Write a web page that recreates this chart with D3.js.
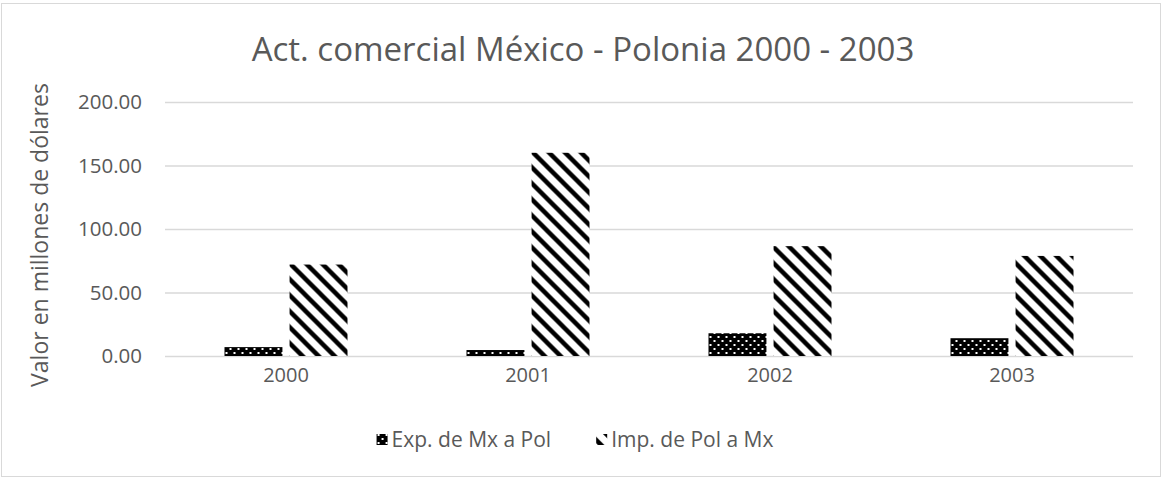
<!DOCTYPE html>
<html>
<head>
<meta charset="utf-8">
<script src="https://cdn.jsdelivr.net/npm/d3@7"></script>
<style>
  body { margin: 0; background: #fff; }
  text { font-family: "Open Sans", sans-serif; fill: #595959; }
</style>
</head>
<body>
<div id="chart"></div>
<script>
// data
var years = ["2000", "2001", "2002", "2003"];
var seriesNames = ["Exp. de Mx a Pol", "Imp. de Pol a Mx"];
var expValues = [7.0, 4.7, 17.9, 14.0];
var impValues = [72.0, 160.0, 86.5, 78.8];
var yTicks = [0, 50, 100, 150, 200];

var W = 1162, H = 479;
var margin = { top: 102, right: 29, bottom: 123, left: 165 };
var width = W - margin.left - margin.right,
    height = H - margin.top - margin.bottom;

var svg = d3.select("#chart").append("svg")
    .attr("width", W)
    .attr("height", H);

// patterns
var defs = svg.append("defs");
var dots = defs.append("pattern")
    .attr("id", "dots")
    .attr("patternUnits", "userSpaceOnUse")
    .attr("width", 8).attr("height", 8);
dots.append("rect").attr("width", 8).attr("height", 8).attr("fill", "#000");
dots.append("rect").attr("x", 1).attr("y", 2).attr("width", 2).attr("height", 2).attr("fill", "#fff");
dots.append("rect").attr("x", 5).attr("y", 6).attr("width", 2).attr("height", 2).attr("fill", "#fff");

var diag = defs.append("pattern")
    .attr("id", "diag")
    .attr("patternUnits", "userSpaceOnUse")
    .attr("width", 16).attr("height", 16);
diag.append("rect").attr("width", 16).attr("height", 16).attr("fill", "#fff");
diag.append("path")
    .attr("d", "M-4,-4L20,20M-4,12L4,20M12,-4L20,4")
    .attr("stroke", "#000")
    .attr("stroke-width", 4.5);

var fills = ["url(#dots)", "url(#diag)"];

// outer border
svg.append("rect")
    .attr("x", 1.5).attr("y", 3.5)
    .attr("width", W - 3).attr("height", H - 6)
    .attr("fill", "none")
    .attr("stroke", "#d9d9d9");

var g = svg.append("g")
    .attr("transform", "translate(" + margin.left + "," + margin.top + ")");

var x0 = d3.scaleBand().domain(years).range([0, width]);
var x1 = d3.scaleBand().domain([0, 1]).range([0, 123]).paddingInner(0.11);
var y = d3.scaleLinear().domain([0, 200]).range([height, 0]);

// gridlines
g.append("g")
    .attr("class", "grid")
    .call(d3.axisLeft(y).tickValues(yTicks).tickSize(-width).tickFormat(""))
    .call(function (s) {
        s.select(".domain").remove();
        s.selectAll("line").attr("stroke", "#d9d9d9").attr("stroke-width", 1.5);
    });

// y tick labels
g.append("g")
    .call(d3.axisLeft(y).tickValues(yTicks).tickSize(0).tickPadding(23)
        .tickFormat(function (d) { return d3.format(".2f")(d); }))
    .call(function (s) {
        s.select(".domain").remove();
        s.selectAll("text").style("font-size", "20.5px").attr("fill", "#595959")
            .style("font-family", "'Open Sans', sans-serif");
    });

// x labels
g.append("g")
    .attr("transform", "translate(0," + height + ")")
    .call(d3.axisBottom(x0).tickSize(0).tickPadding(12))
    .call(function (s) {
        s.select(".domain").remove();
        s.selectAll("text").style("font-size", "20px").attr("fill", "#595959")
            .style("font-family", "'Open Sans', sans-serif");
    });

// bars
var data = years.map(function (yr, i) {
    return { year: yr, values: [expValues[i], impValues[i]] };
});

var groups = g.selectAll(".year")
    .data(data)
    .enter().append("g")
    .attr("class", "year")
    .attr("transform", function (d) {
        return "translate(" + (x0(d.year) + (x0.bandwidth() - 123) / 2) + ",0)";
    });

groups.selectAll("rect")
    .data(function (d) { return d.values; })
    .enter().append("rect")
    .attr("x", function (d, i) { return x1(i); })
    .attr("y", function (d) { return y(d); })
    .attr("width", x1.bandwidth())
    .attr("height", function (d) { return height - y(d); })
    .attr("fill", function (d, i) { return fills[i]; });

// title
svg.append("text")
    .attr("x", 583)
    .attr("y", 61)
    .attr("text-anchor", "middle")
    .style("font-size", "33px")
    .text("Act. comercial México - Polonia 2000 - 2003");

// y axis title
svg.append("text")
    .attr("transform", "translate(48," + (margin.top + height / 2 + 6) + ") rotate(-90)")
    .attr("text-anchor", "middle")
    .style("font-size", "23px")
    .text("Valor en millones de dólares");

// legend, centred under the plot
var legend = svg.append("g").attr("class", "legend");
var items = legend.selectAll(".item")
    .data(seriesNames)
    .enter().append("g")
    .attr("class", "item");

items.append("rect")
    .attr("x", 0).attr("y", -6)
    .attr("width", 11).attr("height", 11)
    .attr("fill", function (d, i) { return fills[i]; });

items.append("text")
    .attr("x", 15)
    .attr("y", 7)
    .style("font-size", "21px")
    .text(function (d) { return d; });

var gap = 45, cx = 0, offsets = [];
items.each(function () {
    offsets.push(cx);
    cx += 15 + d3.select(this).select("text").node().getComputedTextLength() + gap;
});
var total = cx - gap;
items.attr("transform", function (d, i) {
    return "translate(" + (575 - total / 2 + offsets[i]) + ",440)";
});
</script>
</body>
</html>
